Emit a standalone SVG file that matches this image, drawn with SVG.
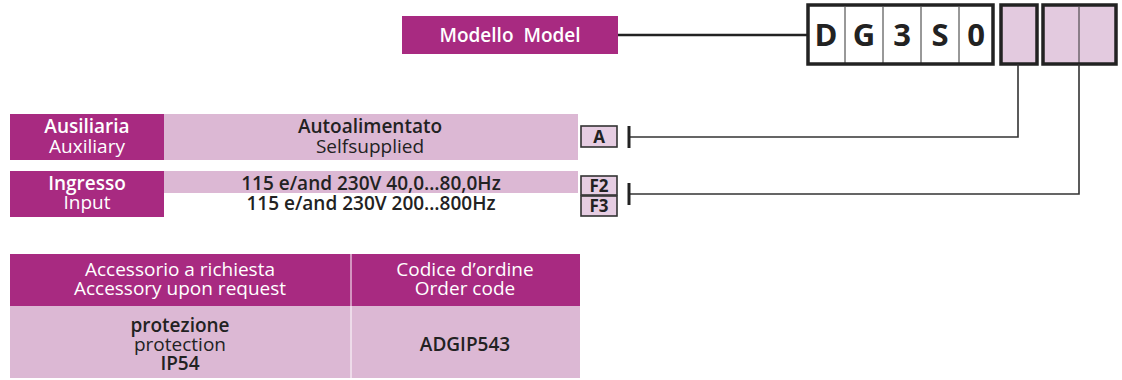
<svg xmlns="http://www.w3.org/2000/svg" width="1122" height="380" viewBox="0 0 1122 380">
<style>
text{font-family:"Open Sans","Noto Sans","Liberation Sans",sans-serif;font-size:19px;text-anchor:middle;}
.mag{fill:#A82A81;}
.pk{fill:#DCB8D4;}
.w{fill:#fff;}
.d{fill:#222;}
.sb{font-weight:600;}
.code{fill:#E6CDE2;stroke:#333;stroke-width:1.6;}
.ct{fill:#222;font-size:17px;font-weight:700;}
.big{fill:#222;font-size:31px;font-weight:700;}
.cell{stroke:#333;stroke-width:1;}
.frame{fill:none;stroke:#222;stroke-width:3.5;}
.conn{fill:none;stroke:#333;stroke-width:1.6;}
.bar{stroke:#222;stroke-width:3;}
</style>
<g id="model">
<rect class="mag" x="402" y="16" width="216" height="38"/>
<text class="w sb" x="510" y="42">Modello&#160; Model</text>
</g>
<g id="code">
<rect x="808" y="5" width="185" height="59" fill="#fff"/>
<line class="cell" x1="845" y1="7" x2="845" y2="63"/>
<line class="cell" x1="883" y1="7" x2="883" y2="63"/>
<line class="cell" x1="921" y1="7" x2="921" y2="63"/>
<line class="cell" x1="959" y1="7" x2="959" y2="63"/>
<rect class="frame" x="808" y="5" width="185" height="59"/>
<text class="big" x="826" y="46">D</text>
<text class="big" x="864" y="46">G</text>
<text class="big" x="902" y="46">3</text>
<text class="big" x="940" y="46">S</text>
<text class="big" x="976" y="46">0</text>
<rect x="1001" y="5" width="36" height="59" fill="#E3CADF"/>
<rect class="frame" x="1001" y="5" width="36" height="59"/>
<rect x="1043" y="5" width="73" height="59" fill="#E3CADF"/>
<line class="cell" x1="1079" y1="7" x2="1079" y2="63"/>
<rect class="frame" x="1043" y="5" width="73" height="59"/>
</g>
<g id="auxiliary">
<rect class="mag" x="10" y="114" width="154" height="46"/>
<rect class="pk" x="164" y="114" width="414" height="46"/>
<text class="w sb" x="87" y="133">Ausiliaria</text>
<text class="w" x="87" y="153">Auxiliary</text>
<text class="d sb" x="370" y="133">Autoalimentato</text>
<text class="d" x="370" y="153">Selfsupplied</text>
<rect class="code" x="581" y="126" width="36" height="21"/>
<text class="ct" x="599" y="143">A</text>
</g>
<g id="input">
<rect class="mag" x="10" y="171" width="154" height="46"/>
<rect class="pk" x="164" y="171" width="414" height="22"/>
<text class="w sb" x="87" y="190">Ingresso</text>
<text class="w" x="87" y="209">Input</text>
<text class="d sb" x="371" y="190">115 e/and 230V 40,0…80,0Hz</text>
<text class="d sb" x="371" y="210">115 e/and 230V 200…800Hz</text>
<rect class="code" x="581" y="176" width="36" height="19"/>
<text class="ct" x="599" y="192">F2</text>
<rect class="code" x="581" y="196" width="36" height="20"/>
<text class="ct" x="599" y="212">F3</text>
</g>
<g id="accessory">
<rect class="mag" x="10" y="254" width="570" height="52"/>
<rect class="pk" x="10" y="306" width="570" height="72"/>
<line x1="351" y1="254" x2="351" y2="378" stroke="#fff" stroke-width="1"/>
<text class="w" x="180" y="276">Accessorio a richiesta</text>
<text class="w" x="180" y="295">Accessory upon request</text>
<text class="w" x="465" y="276">Codice d’ordine</text>
<text class="w" x="465" y="295">Order code</text>
<text class="d sb" x="180" y="332">protezione</text>
<text class="d" x="180" y="351">protection</text>
<text class="d sb" x="180" y="370">IP54</text>
<text class="d sb" x="465" y="351">ADGIP543</text>
</g>
<g id="connectors">
<line x1="618" y1="35" x2="808" y2="35" stroke="#222" stroke-width="2.5"/>
<polyline class="conn" points="1018,64 1018,137 629,137"/>
<line class="bar" x1="629" y1="126" x2="629" y2="148"/>
<polyline class="conn" points="1079,64 1079,194 629,194"/>
<line class="bar" x1="629" y1="183" x2="629" y2="205"/>
</g>
</svg>
